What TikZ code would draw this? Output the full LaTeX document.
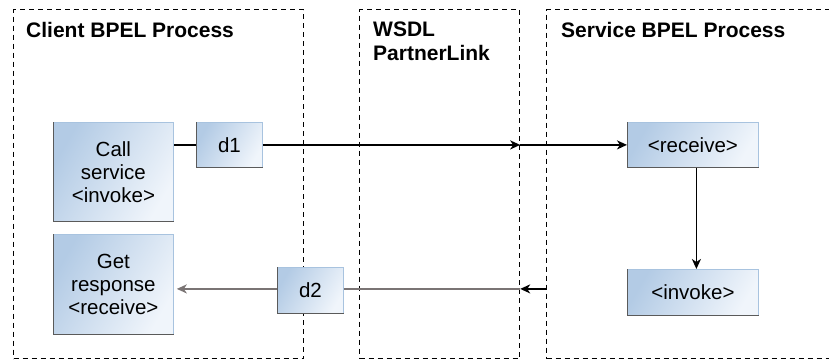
\documentclass[tikz,border=0pt]{standalone}
\usepackage{fontspec}
\setmainfont{Liberation Sans}
\usetikzlibrary{arrows.meta,calc}
\definecolor{boxdark}{HTML}{B3CBE5}
\definecolor{boxlight}{HTML}{F0F5FB}
\definecolor{boxedge}{HTML}{A8C3DF}
\definecolor{shadowedge}{HTML}{5A5A5A}
\definecolor{grayline}{HTML}{7A7474}
\tikzset{
  panel/.style={draw=black, line width=1.2pt, dash pattern=on 5pt off 4pt, anchor=north west, inner sep=0pt},
  title/.style={font=\fontsize{21}{23.5}\selectfont\bfseries, anchor=base west, inner sep=0pt},
  actbox/.style={anchor=north west, inner sep=0pt, draw=boxedge, line width=0.8pt,
    left color=boxdark, right color=boxlight, shading angle=60,
    font=\fontsize{20.5}{23}\selectfont, align=center},
  conn/.style={line width=1.8pt, black},
  arr/.style={conn, -{Stealth[length=10pt,width=9pt,inset=3pt]}},
  grayarr/.style={line width=1.8pt, grayline, -{Stealth[length=10pt,width=9pt,inset=3pt]}},
  grayconn/.style={line width=1.8pt, grayline}
}
\newcommand{\shadowedges}[1]{%
  \draw[shadowedge, line width=1pt] (#1.north west) -- (#1.south west) -- (#1.south east);}
\begin{document}
\begin{tikzpicture}[x=1pt,y=-1pt]
\useasboundingbox (0,0) rectangle (829,360);
% panels
\node[panel, minimum width=290pt, minimum height=349pt] (p1) at (13,9) {};
\node[panel, minimum width=160pt, minimum height=349pt] (p2) at (359,9) {};
\node[panel, minimum width=300pt, minimum height=349pt] (p3) at (546,9) {};
% titles
\node[title] (t1) at (26,37.5) {Client BPEL Process};
\node[title] (t2a) at (373,36.7) {WSDL};
\node[title] (t2b) at (373,60) {PartnerLink};
\node[title] (t3) at (561,37.5) {Service BPEL Process};
% boxes
\node[actbox, minimum width=120pt, minimum height=99pt] (call) at (53,122) {Call\\service\\<invoke>};
\node[actbox, minimum width=66pt, minimum height=45pt] (d1) at (196,122) {d1};
\node[actbox, minimum width=131pt, minimum height=45pt] (rec) at (627,122) {<receive>};
\node[actbox, minimum width=131pt, minimum height=46pt] (inv) at (627,269) {<invoke>};
\node[actbox, minimum width=120pt, minimum height=100pt] (get) at (53,234) {Get\\response\\<receive>};
\node[actbox, minimum width=66pt, minimum height=46pt] (d2) at (277,267) {d2};
\shadowedges{call}\shadowedges{d1}\shadowedges{rec}\shadowedges{inv}\shadowedges{get}\shadowedges{d2}
% connectors
\draw[conn] (d1.west) -- (d1.west -| call.east);
\draw[arr] (d1.east) -- (d1.east -| p2.east);
\draw[arr] (d1.east -| p2.east) -- (rec.west);
\draw[arr] ([xshift=3.5pt]rec.south) -- ([xshift=3.5pt]inv.north);
\draw[grayarr] ([yshift=1.5pt]d2.west) -- ([yshift=1.5pt,xshift=3pt]d2.west -| get.east);
\draw[grayconn] ([yshift=1.5pt]d2.east) -- ([yshift=1.5pt]d2.east -| p2.east);
\draw[arr] ([yshift=1.5pt]d2.east -| p3.west) -- ([yshift=1.5pt]d2.east -| p2.east);
\end{tikzpicture}
\end{document}
